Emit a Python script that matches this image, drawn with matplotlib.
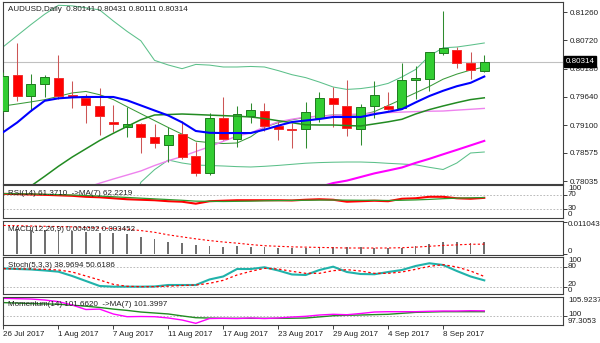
import matplotlib
matplotlib.use("Agg")
import matplotlib.pyplot as plt

# daily candles, 26 Jul - 13 Sep 2017
opens = [0.79377, 0.80058, 0.79657, 0.79881, 0.79995, 0.79682, 0.79619, 0.79467, 0.79161, 0.79072,
         0.79123, 0.78869, 0.78717, 0.78932, 0.78513, 0.78194, 0.79243, 0.78837, 0.79281, 0.79371,
         0.79085, 0.79033, 0.79022, 0.79232, 0.79619, 0.79472, 0.79022, 0.79472, 0.79467, 0.79423,
         0.79963, 0.79976, 0.80472, 0.80535, 0.80281, 0.80141]
highs = [0.80115, 0.80674, 0.80077, 0.80052, 0.80445, 0.79938, 0.79696, 0.79804, 0.79486, 0.79442,
         0.79140, 0.79117, 0.79072, 0.79186, 0.78785, 0.79339, 0.79633, 0.79467, 0.79518, 0.79518,
         0.79161, 0.79136, 0.79549, 0.79734, 0.79835, 0.79963, 0.79499, 0.79949, 0.79734, 0.80293,
         0.80230, 0.80503, 0.81279, 0.80598, 0.80503, 0.80431]
lows = [0.79352, 0.79568, 0.79377, 0.79633, 0.79594, 0.79423, 0.79136, 0.78913, 0.78976, 0.78869,
        0.78564, 0.78665, 0.78404, 0.78450, 0.78131, 0.78150, 0.78818, 0.78690, 0.79148, 0.78990,
        0.78818, 0.78671, 0.78659, 0.79167, 0.79072, 0.78894, 0.78722, 0.79232, 0.79390, 0.79404,
        0.79594, 0.79753, 0.80440, 0.80186, 0.79987, 0.80111]
closes = [0.80039, 0.79657, 0.79881, 0.80014, 0.79657, 0.79633, 0.79486, 0.79281, 0.79117, 0.79117,
          0.78869, 0.78755, 0.78913, 0.78499, 0.78182, 0.79243, 0.78837, 0.79320, 0.79390, 0.79091,
          0.79028, 0.79009, 0.79352, 0.79613, 0.79505, 0.79053, 0.79453, 0.79676, 0.79404, 0.79957,
          0.80001, 0.80491, 0.80567, 0.80281, 0.80153, 0.80314]

# moving averages / bands on the price chart
ma_blue = [0.78970, 0.79152, 0.79371, 0.79566, 0.79613, 0.79631, 0.79639, 0.79639, 0.79639, 0.79575,
           0.79478, 0.79381, 0.79285, 0.79155, 0.78990, 0.78955, 0.78951, 0.78951, 0.78951, 0.79015,
           0.79091, 0.79161, 0.79190, 0.79219, 0.79257, 0.79257, 0.79257, 0.79310, 0.79356, 0.79406,
           0.79535, 0.79657, 0.79757, 0.79844, 0.79909, 0.80029]
bb_mid = [0.77578, 0.77763, 0.77940, 0.78125, 0.78316, 0.78492, 0.78650, 0.78808, 0.78946, 0.79077,
          0.79205, 0.79295, 0.79304, 0.79314, 0.79304, 0.79293, 0.79283, 0.79272, 0.79257, 0.79227,
          0.79186, 0.79148, 0.79108, 0.79104, 0.79104, 0.79094, 0.79085, 0.79125, 0.79165, 0.79213,
          0.79314, 0.79398, 0.79467, 0.79531, 0.79589, 0.79623]
bb_up = [0.80600, 0.80810, 0.81020, 0.81218, 0.81388, 0.81378, 0.81340, 0.81300, 0.81088, 0.80890,
         0.80711, 0.80337, 0.80249, 0.80179, 0.80260, 0.80247, 0.80211, 0.80211, 0.80221, 0.80211,
         0.80142, 0.80064, 0.80008, 0.79923, 0.79829, 0.79783, 0.79799, 0.79835, 0.79898, 0.80021,
         0.80163, 0.80422, 0.80577, 0.80592, 0.80629, 0.80669]
bb_low = [0.7456, 0.7472, 0.7486, 0.7503, 0.7524, 0.7561, 0.7596, 0.7632, 0.7680, 0.7727,
          0.78011, 0.78253, 0.78436, 0.78379, 0.78341, 0.78331, 0.78322, 0.78310, 0.78303, 0.78316,
          0.78333, 0.78354, 0.78375, 0.78387, 0.78394, 0.78398, 0.78398, 0.78389, 0.78373, 0.78360,
          0.78345, 0.78297, 0.78255, 0.78379, 0.78570, 0.78589]
ma_fast = [0.79467, 0.79505, 0.79545, 0.79587, 0.79651, 0.79716, 0.79744, 0.79682, 0.79589, 0.79453,
           0.79320, 0.79188, 0.79056, 0.78929, 0.78795, 0.78768, 0.78751, 0.78761, 0.78879, 0.79062,
           0.79150, 0.79203, 0.79253, 0.79275, 0.79295, 0.79295, 0.79295, 0.79360, 0.79476, 0.79596,
           0.79718, 0.79839, 0.79978, 0.80075, 0.80152, 0.80211]
ma_violet = [0.77444, 0.77520, 0.77597, 0.77673, 0.77749, 0.77826, 0.77906, 0.77994, 0.78074, 0.78150,
             0.78227, 0.78331, 0.78423, 0.78503, 0.78598, 0.78690, 0.78793, 0.78892, 0.78953, 0.79066,
             0.79165, 0.79215, 0.79255, 0.79272, 0.79287, 0.79302, 0.79316, 0.79333, 0.79341, 0.79350,
             0.79360, 0.79367, 0.79371, 0.79388, 0.79404, 0.79421]
ma_slow = [None] * 21 + [0.77768, 0.77845, 0.77921, 0.77997, 0.78043, 0.78112, 0.78181, 0.78236,
                         0.78293, 0.78381, 0.78459, 0.78545, 0.78629, 0.78715, 0.78801]

rsi = [72.8, 72.0, 71.0, 70.0, 68.6, 67.2, 64.4, 63.0, 60.2, 57.4,
       56.0, 54.6, 51.8, 50.4, 44.8, 51.8, 53.2, 54.6, 54.6, 54.6,
       54.6, 54.0, 56.0, 57.4, 56.0, 50.4, 51.8, 53.2, 51.8, 58.8,
       60.2, 64.4, 64.4, 60.2, 58.8, 61.3710]
rsi_ma = [73.5, 73.0, 72.5, 71.5, 70.5, 69.5, 68.0, 66.5, 64.5, 62.5,
          60.5, 58.5, 56.5, 54.5, 52.0, 51.5, 51.0, 51.5, 52.0, 53.0,
          53.5, 54.0, 54.5, 55.0, 55.2, 54.8, 54.5, 54.3, 53.8, 54.5,
          55.5, 57.0, 59.0, 60.5, 61.5, 62.2219]

macd = [0.00865, 0.00865, 0.0084, 0.0084, 0.0084, 0.00816, 0.0078, 0.00746, 0.00725, 0.0069,
        0.00606, 0.00515, 0.0043, 0.00375, 0.00315, 0.0028, 0.00255, 0.0028, 0.00255, 0.00235,
        0.0022, 0.0022, 0.0022, 0.0022, 0.00235, 0.00235, 0.00235, 0.0022, 0.0021, 0.0022,
        0.0028, 0.0035, 0.0041, 0.0041, 0.00375, 0.004092]
macd_sig = [0.0100, 0.0099, 0.0098, 0.0097, 0.0096, 0.0095, 0.0093, 0.0091, 0.0089, 0.0087,
            0.0082, 0.0076, 0.0067, 0.0060, 0.0053, 0.0047, 0.0042, 0.0038, 0.0033, 0.0029,
            0.0027, 0.0025, 0.0024, 0.0023, 0.0022, 0.0021, 0.0021, 0.0021, 0.0021, 0.0022,
            0.0024, 0.0027, 0.0030, 0.0032, 0.0034, 0.003452]

stoch_k = [74.6, 73.0, 71.6, 68.6, 65.0, 52.0, 37.0, 22.0, 20.0, 20.0,
           20.0, 20.6, 25.0, 25.0, 25.0, 41.6, 50.6, 73.0, 73.0, 78.2,
           68.6, 56.6, 55.0, 70.0, 80.0, 64.0, 58.0, 57.2, 64.0, 70.0,
           82.0, 90.2, 85.0, 67.0, 50.6, 38.9694]
stoch_d = [74.0, 73.5, 73.0, 72.0, 70.0, 64.0, 52.0, 40.0, 27.0, 21.0,
           20.0, 20.0, 21.5, 23.5, 25.0, 30.0, 39.0, 55.0, 66.0, 75.0,
           73.0, 66.0, 60.0, 60.0, 68.0, 71.0, 67.0, 60.0, 60.0, 64.0,
           72.0, 81.0, 86.0, 79.0, 67.0, 50.6186]

mom = [105.52, 105.4, 105.3, 105.0, 104.5, 103.46, 102.07, 102.2, 100.69, 99.86,
       99.92, 99.86, 99.46, 98.84, 97.82, 99.3, 99.36, 99.3, 99.46, 99.3,
       99.46, 99.76, 99.98, 100.38, 100.6, 100.47, 100.84, 101.3, 101.4, 101.4,
       101.4, 101.52, 101.61, 101.61, 101.7, 101.6620]
mom_ma = [104.2, 104.05, 103.9, 103.8, 103.7, 103.4, 103.1, 102.7, 102.2, 101.8,
          101.3, 101.0, 100.7, 100.1, 99.55, 99.45, 99.36, 99.36, 99.36, 99.36,
          99.36, 99.4, 99.46, 99.8, 100.16, 100.3, 100.38, 100.5, 100.6, 100.9,
          101.2, 101.3, 101.4, 101.4, 101.4, 101.3997]

price_ticks = [0.81260, 0.80720, 0.80180, 0.79640, 0.79100, 0.78575, 0.78035]
date_pos = [0, 4, 8, 12, 16, 20, 24, 28, 32]
date_labels = ["26 Jul 2017", "1 Aug 2017", "7 Aug 2017", "11 Aug 2017", "17 Aug 2017",
               "23 Aug 2017", "29 Aug 2017", "4 Sep 2017", "8 Sep 2017"]

plt.rcParams["font.family"] = ["Liberation Sans", "DejaVu Sans"]
FS = 5.8
W, H = 600, 343
X0, X1 = 2.5, 563
idx = list(range(len(closes)))

fig = plt.figure(figsize=(W / 100, H / 100), dpi=100)
fig.patch.set_facecolor("white")


def panel(top, bottom, ylim):
    ax = fig.add_axes([X0 / W, 1 - bottom / H, (X1 - X0) / W, (bottom - top) / H])
    ax.set_xlim(-0.07, 40.73)
    ax.set_ylim(*ylim)
    for s in ax.spines.values():
        s.set_color("#404040")
        s.set_linewidth(0.8)
    ax.yaxis.tick_right()
    ax.tick_params(axis="y", direction="out", length=3, width=0.6, pad=2,
                   labelsize=FS, colors="#202020")
    ax.tick_params(axis="x", bottom=False, labelbottom=False)
    return ax


def side_text(ax, y, s, va="center", axes_y=False):
    tr = ax.transAxes if axes_y else ax.get_yaxis_transform()
    ax.text(1 + 5 / (X1 - X0), y, s, transform=tr, fontsize=FS, va=va, ha="left",
            color="#202020", clip_on=False)


def title(ax, y, s):
    ax.text(6 / (X1 - X0), y, s, transform=ax.transAxes, fontsize=FS, va="center",
            ha="left", color="#202020", zorder=20)


# ---- price panel
ax = panel(2, 183.5, (0.77988, 0.81451))
ax.axhline(closes[-1], color="#c0c0c0", lw=0.8, zorder=1)
ax.plot(idx, bb_up, color="#5cc08a", lw=0.75, zorder=2)
ax.plot(idx, bb_low, color="#5cc08a", lw=0.75, zorder=2)
ax.plot(idx, ma_fast, color="#3a9a3a", lw=0.75, zorder=2)
ax.plot(idx, ma_violet, color="#ee82ee", lw=1.0, zorder=2)

for i in idx:
    o, h, l, c = opens[i], highs[i], lows[i], closes[i]
    up = c >= o
    wick = "#2e8b2e" if up else "#cc5555"
    ax.vlines(i, l, h, color=wick, lw=0.75, zorder=3)
    body = max(abs(c - o), 0.00004)
    ax.bar(i, body, bottom=min(o, c), width=0.65,
           color="#32cd32" if up else "#ff0000",
           edgecolor="#1f7a1f" if up else "#f03030", linewidth=0.7, zorder=4)

ax.plot(idx, bb_mid, color="#228b22", lw=1.1, zorder=5)
ax.plot(idx, ma_blue, color="#0000ff", lw=1.5, zorder=5)
ax.plot(idx, ma_slow, color="#ff00ff", lw=1.5, zorder=5)

ax.set_yticks(price_ticks, [f"{p:.5f}" for p in price_ticks])
ax.text(1 + 2.5 / (X1 - X0), closes[-1], f"{closes[-1]:.5f}", transform=ax.get_yaxis_transform(),
        fontsize=FS, color="white", va="center", ha="left", clip_on=False, zorder=30,
        bbox=dict(boxstyle="square,pad=0.2", fc="black", ec="black"))
title(ax, 0.96, f"AUDUSD,Daily  {opens[-1]:.5f} {highs[-1]:.5f} {lows[-1]:.5f} {closes[-1]:.5f}")

# ---- RSI
ax = panel(185, 218, (4, 98))
for lvl in (70, 30):
    ax.axhline(lvl, color="#b0b0b0", lw=0.6, ls=(0, (2, 2)))
ax.plot(idx, rsi, color="#ff0000", lw=1.5)
ax.plot(idx, rsi_ma, color="#2e9a2e", lw=0.9)
ax.set_yticks([70, 30], ["", ""])
side_text(ax, 1.0, "100", va="top", axes_y=True)
side_text(ax, 72, "70")
side_text(ax, 32, "30")
side_text(ax, 0.0, "0", va="bottom", axes_y=True)
title(ax, 0.73, f"RSI(14) {rsi[-1]:.4f}  ->MA(7) {rsi_ma[-1]:.4f}")

# ---- MACD
ax = panel(221, 255, (-0.00035, 0.01155))
ax.bar(idx, macd, width=0.13, color="#707070", zorder=2)
ax.plot(idx, macd_sig, color="#ff0000", lw=0.8, ls=(0, (2, 2)), zorder=3)
ax.set_yticks([0.011043, 0], ["", ""])
side_text(ax, 1.0, "0.011043", va="top", axes_y=True)
side_text(ax, 0.0, "0", va="bottom", axes_y=True)
title(ax, 0.76, f"MACD(12,26,9) {macd[-1]:.6f} {macd_sig[-1]:.6f}")

# ---- Stochastic
ax = panel(257, 294, (-2, 109))
for lvl in (80, 20):
    ax.axhline(lvl, color="#b0b0b0", lw=0.6, ls=(0, (2, 2)))
ax.plot(idx, stoch_k, color="#20b2aa", lw=1.5)
ax.plot(idx, stoch_d, color="#ff0000", lw=0.9, ls=(0, (2, 2)))
ax.set_yticks([80, 20], ["", ""])
side_text(ax, 1.0, "100", va="top", axes_y=True)
side_text(ax, 82, "80")
side_text(ax, 26, "20")
side_text(ax, 0.0, "0", va="bottom", axes_y=True)
title(ax, 0.76, f"Stoch(5,3,3) {stoch_k[-1]:.4f} {stoch_d[-1]:.4f}")

# ---- Momentum
ax = panel(297, 325, (97.3053, 105.9237))
ax.axhline(100, color="#b0b0b0", lw=0.6, ls=(0, (2, 2)))
ax.plot(idx, mom_ma, color="#228b22", lw=1.0)
ax.plot(idx, mom, color="#ff00ff", lw=1.0)
ax.set_yticks([100], [""])
side_text(ax, 1.0, "105.9237", va="top", axes_y=True)
side_text(ax, 100.5, "100")
side_text(ax, 0.0, "97.3053", va="bottom", axes_y=True)
title(ax, 0.72, f"Momentum(14) {mom[-1]:.4f}  ->MA(7) {mom_ma[-1]:.4f}")

ax.tick_params(axis="x", bottom=True, labelbottom=True, direction="out", length=3,
               width=0.6, pad=1, labelsize=FS, colors="#202020")
ax.set_xticks(date_pos, date_labels)
for lab in ax.get_xticklabels():
    lab.set_horizontalalignment("left")

fig.savefig("out.png", dpi=100, facecolor="white")
